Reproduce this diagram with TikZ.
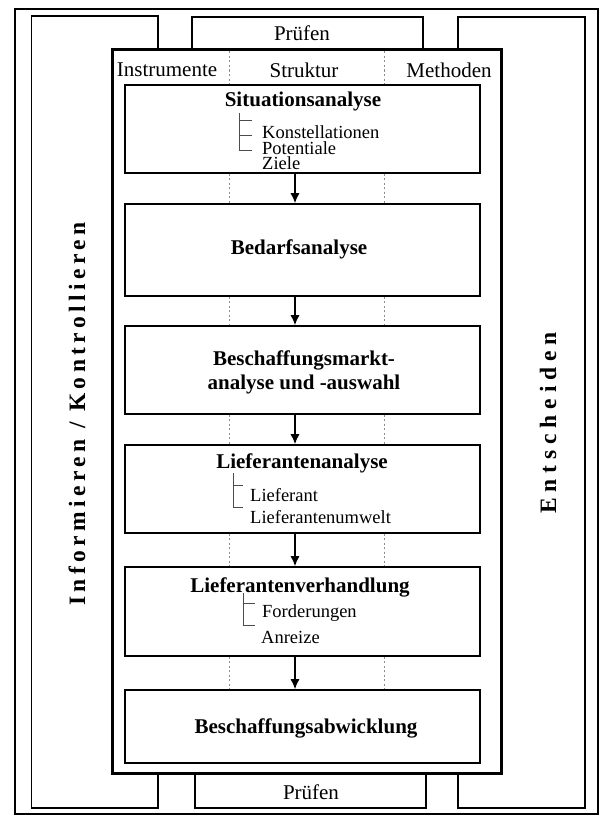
\documentclass[tikz,border=0pt]{standalone}
\usepackage{fontspec}
\setmainfont{Liberation Serif}
\newfontfamily\spacedA[LetterSpace=19]{Liberation Serif}
\newfontfamily\spacedB[LetterSpace=25]{Liberation Serif}
\usetikzlibrary{arrows.meta}
\begin{document}
\begin{tikzpicture}[x=1pt,y=-1pt,
  outerframe/.style={draw=black, line width=2.2pt},
  sidebox/.style={draw=black, line width=1.5pt},
  innerframe/.style={draw=black, line width=3pt, fill=white},
  stagebox/.style={draw=black, line width=1.6pt, fill=white, minimum width=355pt, inner sep=0pt},
  title/.style={font=\fontsize{21}{24}\selectfont\bfseries, align=center, inner sep=0pt},
  plainlabel/.style={font=\fontsize{21}{24}\selectfont, inner sep=0pt},
  itemtext/.style={font=\fontsize{18.5}{18.5}\selectfont, anchor=west, inner sep=0pt},
  treeline/.style={draw=black!70, line width=0.6pt},
  flow/.style={-{Latex[length=10pt,width=9pt]}, line width=1.3pt},
  divider/.style={draw=black!45, line width=0.8pt, dash pattern=on 2pt off 2.5pt},
  vlabelA/.style={rotate=90, font=\fontsize{23.5}{26}\spacedA\bfseries, inner sep=0pt},
  vlabelB/.style={rotate=90, font=\fontsize{23.5}{26}\spacedB\bfseries, inner sep=0pt}
]
\useasboundingbox (0,0) rectangle (603,816);
\fill[white] (0,0) rectangle (603,816);

% frames
\draw[outerframe] (15,9) rectangle (598,814);
\draw[sidebox] (31.5,16) rectangle (158,808);
\draw[sidebox] (458,17) rectangle (585,808);
\draw[sidebox] (192,17) rectangle (423,60);
\draw[sidebox] (195,760) rectangle (426,808);
\draw[innerframe] (112,50) rectangle (501,773);

% side / top / bottom labels
\node[plainlabel] (p1) at (302,33) {Prüfen};
\node[plainlabel] (p2) at (311,792) {Prüfen};
\node[vlabelA] (v1) at (77,414) {Informieren / Kontrollieren};
\node[vlabelB] (v2) at (548,423) {Entscheiden};

% column labels
\node[plainlabel] (c1) at (167,70) {Instrumente};
\node[plainlabel] (c2) at (304,70) {Struktur};
\node[plainlabel] (c3) at (449,70) {Methoden};

% column divider positions
\coordinate (d1) at (229,0);
\coordinate (d2) at (384,0);
\coordinate (itop) at (0,51.5);

% stage boxes
\node[stagebox, minimum height=88pt] (s1) at (302.5,129) {};
\node[stagebox, minimum height=92pt] (s2) at (302.5,250) {};
\node[stagebox, minimum height=88pt] (s3) at (302.5,370) {};
\node[stagebox, minimum height=88pt] (s4) at (302.5,489) {};
\node[stagebox, minimum height=89pt] (s5) at (302.5,611.5) {};
\node[stagebox, minimum height=73pt] (s6) at (302.5,726.5) {};

% dotted column dividers
\foreach \d in {d1,d2}{
  \draw[divider] (itop -| \d) -- (s1.north -| \d);
  \draw[divider] (s1.south -| \d) -- (s2.north -| \d);
  \draw[divider] (s2.south -| \d) -- (s3.north -| \d);
  \draw[divider] (s3.south -| \d) -- (s4.north -| \d);
  \draw[divider] (s4.south -| \d) -- (s5.north -| \d);
  \draw[divider] (s5.south -| \d) -- (s6.north -| \d);
}

% flow arrows
\draw[flow] ([xshift=-7.5pt]s1.south) -- ([xshift=-7.5pt]s2.north);
\draw[flow] ([xshift=-7.5pt]s2.south) -- ([xshift=-7.5pt]s3.north);
\draw[flow] ([xshift=-7.5pt]s3.south) -- ([xshift=-7.5pt]s4.north);
\draw[flow] ([xshift=-7.5pt]s4.south) -- ([xshift=-7.5pt]s5.north);
\draw[flow] ([xshift=-7.5pt]s5.south) -- ([xshift=-7.5pt]s6.north);

% box 1
\node[title] (t1) at (303,101) {Situationsanalyse};
\draw[treeline] (239,113) -- (239,150) -- (252,150) (239,120) -- (252,120) (239,135) -- (252,135);
\node[itemtext] (i11) at (262,132.5) {Konstellationen};
\node[itemtext] (i12) at (262,148) {Potentiale};
\node[itemtext] (i13) at (262,163.5) {Ziele};

% box 2
\node[title] (t2) at (299,249) {Bedarfsanalyse};

% box 3
\node[title] (t3) at (304,372) {Beschaffungsmarkt-\\analyse und -auswahl};

% box 4
\node[title] (t4) at (302,463) {Lieferantenanalyse};
\draw[treeline] (233,473) -- (233,507) -- (243,507) (233,485) -- (243,485);
\node[itemtext] (i41) at (250,495) {Lieferant};
\node[itemtext] (i42) at (250,517) {Lieferantenumwelt};

% box 5
\node[title] (t5) at (300,587) {Lieferantenverhandlung};
\draw[treeline] (243,593) -- (243,625) -- (255,625) (243,603) -- (255,603);
\node[itemtext] (i51) at (262,613) {Forderungen};
\node[itemtext] (i52) at (261,637) {Anreize};

% box 6
\node[title] (t6) at (306,728) {Beschaffungsabwicklung};
\end{tikzpicture}
\end{document}
